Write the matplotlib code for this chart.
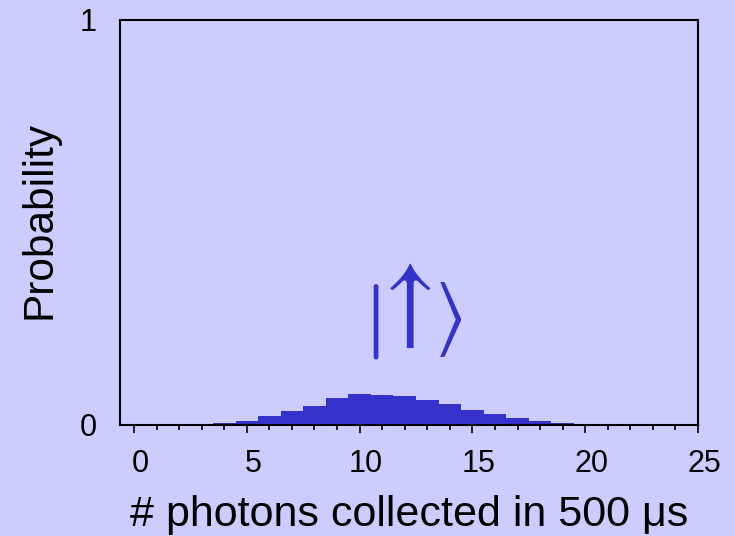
import numpy as np
import matplotlib.pyplot as plt
from matplotlib.transforms import ScaledTranslation
import matplotlib.patheffects as pe

# Photon-count histogram for the bright state
photon_counts = [4, 5, 6, 7, 8, 9, 10, 11, 12, 13, 14, 15, 16, 17, 18, 19, 20]
probability = [0.004, 0.011, 0.023, 0.035, 0.048, 0.066, 0.077, 0.075, 0.072,
               0.062, 0.053, 0.038, 0.028, 0.018, 0.011, 0.006, 0.002]

x_major = [0, 5, 10, 15, 20, 25]
y_ticks = [0, 1]

BG = '#ccccff'
BAR = '#3333cc'

plt.rcParams['font.family'] = ['Liberation Sans', 'DejaVu Sans']

fig = plt.figure(figsize=(7.35, 5.36), dpi=100, facecolor=BG)
ax = fig.add_axes([120 / 735, 1 - 425 / 536, 578 / 735, 405.5 / 536])
ax.set_facecolor(BG)

ax.bar(photon_counts, probability, width=1.0, color=BAR, linewidth=0)

ax.set_xlim(-0.62, 25)
ax.set_ylim(0, 1)

ax.set_xticks(x_major)
ax.set_xticks(np.arange(0, 26, 1), minor=True)
ax.set_yticks(y_ticks)
ax.set_yticklabels([str(v) for v in y_ticks])

ax.tick_params(axis='x', which='major', direction='out', length=6, width=1.2,
               labelsize=22, pad=11, colors='black')
ax.tick_params(axis='x', which='minor', direction='out', length=3.6, width=1.2)
ax.tick_params(axis='y', length=0, labelsize=22, pad=17)

# nudge x tick labels slightly to the right
shift = ScaledTranslation(6 / 100, 0, fig.dpi_scale_trans)
for lbl in ax.get_xticklabels():
    lbl.set_transform(lbl.get_transform() + shift)

for side in ['left', 'right', 'top', 'bottom']:
    ax.spines[side].set_linewidth(1.5)
    ax.spines[side].set_color('black')

ax.set_xlabel(u'# photons collected in 500 \u03bcs', fontsize=31, labelpad=12)
ax.set_ylabel('Probability', fontsize=30.5)
ax.yaxis.set_label_coords(-0.104, 0.505)

# spin-up ket, built from three pieces so the arrow can be taller
ket_kw = dict(color=BAR, ha='center', va='center')
ax.text(10.58, 0.256, r'$|$', fontsize=53, math_fontfamily='cm',
        path_effects=[pe.withStroke(linewidth=1.3, foreground=BAR)], **ket_kw)
ax.text(11.82, 0.296, r'$\uparrow$', fontsize=74, math_fontfamily='stix', **ket_kw)
ax.text(13.9, 0.259, r'$\rangle$', fontsize=58, math_fontfamily='stix', **ket_kw)

fig.savefig('out.png', dpi=100, facecolor=BG)
